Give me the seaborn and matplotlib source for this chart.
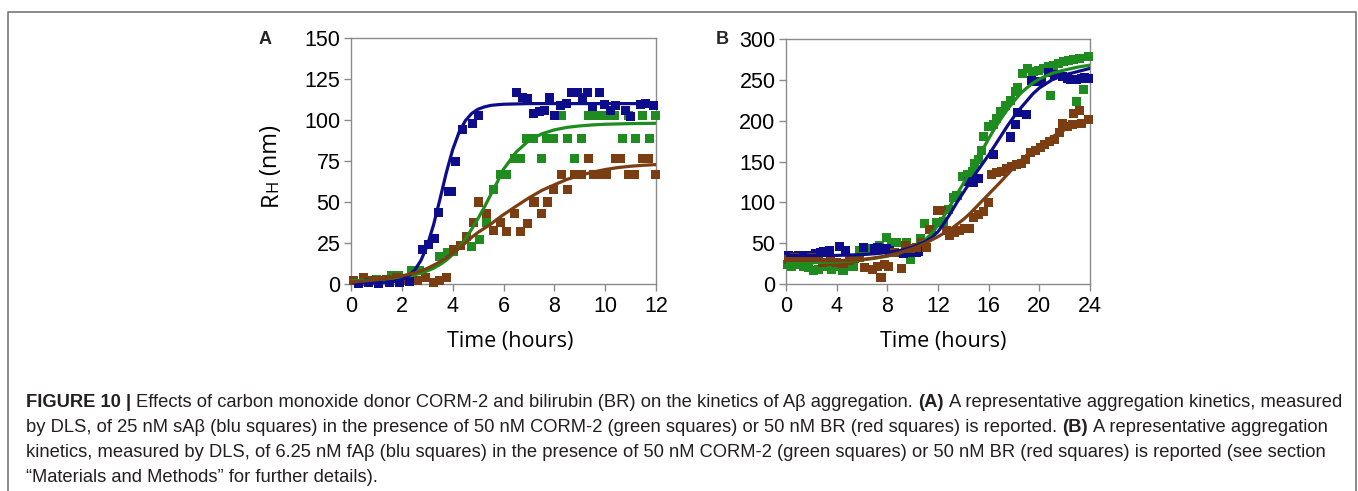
import numpy as np
import pandas as pd
import matplotlib
matplotlib.use("Agg")
import matplotlib.pyplot as plt
import seaborn as sns
from matplotlib.lines import Line2D

# ---------------- Panel A data (Time in hours, RH in nm) ----------------
A_blue_t = [0.3, 0.7, 1.1, 1.5, 1.9, 2.3, 2.82, 3.05, 3.27, 3.45, 3.85, 3.95, 4.11, 4.4, 4.78, 5.03,
            6.5, 6.75, 6.95, 7.18, 7.42, 7.6, 7.81, 8.0, 8.23, 8.47, 8.69, 8.91, 9.11, 9.31, 9.52,
            9.77, 9.98, 10.2, 10.42, 10.8, 11.0, 11.38, 11.6, 11.9]
A_blue_r = [0.5, 0.8, 0.6, 1.0, 1.2, 1.5, 20.9, 24, 27.6, 43.7, 56.5, 56.5, 74.8, 94, 98, 103,
            116.5, 114, 113, 104, 105, 106, 114, 103, 109, 110, 117, 116.5, 113.6, 117, 108,
            117, 109.6, 106, 109, 106, 102, 109.3, 109.8, 108.7]

A_green_t = [0.5, 1.0, 1.6, 1.85, 2.4, 2.7, 3.48, 3.8, 4.05, 4.75, 5.05, 5.34, 5.6, 5.87, 6.13, 6.42,
             6.68, 6.92, 7.18, 7.48, 7.7, 7.97, 8.27, 8.53, 8.8, 9.05, 9.35, 9.55, 9.75, 9.95,
             10.15, 10.35, 10.7, 10.92, 11.2, 11.48, 11.75, 11.97]
A_green_r = [1.5, 2.5, 5, 5, 8.3, 8, 16.5, 19.3, 20, 23, 27.4, 37.2, 57.5, 66.7, 66.7, 76.8,
             76.8, 89, 89, 76.8, 89, 89, 102.8, 89, 76.8, 89, 102.8, 102.8, 102.8, 102.8,
             102.8, 102.8, 89, 102.8, 89, 102.8, 89, 102.8]

A_brown_t = [0.1, 0.5, 0.8, 1.1, 1.4, 1.8, 2.2, 2.6, 2.93, 3.24, 3.5, 3.74, 4.03, 4.29, 4.55, 4.82,
             5.0, 5.34, 5.6, 5.87, 6.13, 6.42, 6.68, 6.95, 7.2, 7.48, 7.73, 7.97, 8.27, 8.53,
             8.8, 9.05, 9.35, 9.55, 9.8, 10.05, 10.42, 10.6, 10.92, 11.15, 11.48, 11.7, 11.97]
A_brown_r = [2, 3.7, 2.2, 2.2, 2.5, 3.7, 2, 2.2, 3.7, 1, 2.2, 3.7, 21, 23.4, 28.7, 37.6,
             50, 43, 32.5, 37.6, 32, 43, 32, 37, 50, 43, 50, 57.5, 66.7, 57.5,
             66.7, 66.7, 76.8, 66.7, 66.7, 66.7, 76.8, 76.8, 66.7, 66.7, 76.8, 76.8, 66.7]

# fitted curves
A_fit_t = [0, 0.5, 1, 1.5, 2, 2.25, 2.5, 2.75, 3, 3.25, 3.5, 3.75, 4, 4.25, 4.5, 4.75, 5, 5.25,
           5.5, 5.75, 6, 6.5, 7, 7.5, 8, 8.5, 9, 9.5, 10, 10.5, 11, 11.5, 12]
A_fit_blue = [0.1, 0.2, 0.3, 0.8, 2.7, 4.8, 8.3, 14.3, 23.4, 36.2, 51.7, 67.9, 81.9, 92.5, 99.6,
              104, 106.6, 108, 108.9, 109.3, 109.6, 109.8, 110, 110, 110, 110, 110, 110, 110,
              110, 110, 110, 110]
A_fit_green = [2, 2.3, 2.7, 3.3, 4.2, 4.8, 5.6, 6.6, 8, 9.6, 11.8, 14.5, 18, 22.3, 27.5, 33.5,
               40, 47, 54.5, 62, 70, 80.5, 87.5, 91.5, 94, 95.5, 96.4, 97, 97.4, 97.6, 97.8,
               97.9, 98]
A_fit_brown = [1.2, 1.8, 2.6, 3.6, 5, 5.8, 6.8, 8, 9.5, 11.5, 13.5, 16, 18.8, 21.8, 25, 28.5,
               31.5, 34, 36.5, 39.5, 42.3, 47.5, 52.5, 57, 60.5, 63.8, 66.2, 68.2, 69.8, 71,
               71.8, 72.4, 72.8]

# ---------------- Panel B data ----------------
B_blue_t = [0.2, 0.6, 1.0, 1.4, 1.8, 2.3, 2.7, 3.0, 3.4, 4.2, 4.66, 6.1, 7.0, 7.2, 7.55, 7.95,
            8.2, 9.26, 9.8, 10.3, 10.45, 14.4, 14.8, 15.2, 16.4, 17.7, 18.1, 18.3, 19.0, 19.4,
            19.8, 20.2, 20.7, 21.2, 21.5, 21.8, 22.2, 22.5, 22.9, 23.3, 23.6, 23.9]
B_blue_r = [35, 34, 35, 34.6, 35, 37, 38, 39.4, 40.7, 46, 41, 44.5, 43, 44.7, 42.7, 43.5,
            40.7, 37.8, 38, 38, 39.4, 126, 124, 129, 158, 180, 195, 210, 207, 249,
            248, 248, 259, 257, 256, 254, 252, 251, 250, 252, 253, 252]

B_green_t = [0.1, 0.45, 1.0, 1.4, 1.8, 2.2, 2.6, 3.1, 3.6, 4.0, 4.5, 4.9, 5.3, 5.8, 6.2, 6.6,
             7.4, 7.9, 8.3, 8.7, 9.5, 9.8, 10.6, 10.9, 11.5, 11.9, 12.4, 12.8, 13.2, 13.5,
             13.9, 14.3, 14.7, 14.9, 15.2, 15.4, 15.6, 16.0, 16.4, 16.6, 16.9, 17.3, 17.7,
             18.1, 18.3, 18.7, 19.1, 19.5, 19.9, 20.3, 20.7, 20.9, 21.1, 21.5, 21.9, 22.3,
             22.7, 22.9, 23.2, 23.5, 23.9]
B_green_r = [24, 21.5, 24, 21.5, 20, 16, 18, 21.5, 18, 21.5, 16, 21.5, 21.5, 40.6, 40.6, 43.5,
             46.7, 57, 51, 51, 51, 30.5, 55.7, 74.4, 67, 75, 77, 91.5, 105.7, 108,
             132, 134, 138, 148, 152, 163, 181, 193, 195, 203, 211, 219, 225,
             236, 240, 258, 264, 260, 262, 264, 266, 231, 268, 270, 272, 274,
             275, 223, 276, 238, 279]

B_brown_t = [0.2, 0.7, 1.1, 1.5, 2.0, 2.6, 2.9, 3.5, 4.0, 4.5, 5.0, 5.4, 5.8, 6.2, 6.8, 7.2,
             7.5, 7.8, 8.1, 8.6, 9.1, 9.4, 9.8, 10.3, 10.7, 11.1, 11.3, 12.0, 12.3, 12.7,
             12.9, 13.3, 13.7, 14.1, 14.5, 14.8, 15.2, 15.6, 16.0, 16.2, 16.6, 17.0, 17.4,
             17.8, 18.2, 18.6, 18.9, 19.3, 19.7, 20.1, 20.4, 20.8, 21.2, 21.6, 21.8, 22.2,
             22.6, 22.7, 23.2, 23.3, 23.9]
B_brown_r = [30.5, 32.5, 31, 30.5, 32.5, 30.5, 26, 27, 26, 25.6, 28.5, 31, 32.5, 20, 18, 22,
             8, 24.4, 22, 38.6, 19, 46.7, 43.5, 44.7, 51, 44.7, 67, 89.4, 89.4, 65,
             59, 63, 65, 68, 68, 81, 85, 89, 99.6, 134, 137, 138, 141,
             144, 146, 148, 152, 161, 164, 167, 171, 174, 177, 185, 197, 193,
             195, 209, 213, 197, 201]

B_fit_t = [0, 2, 4, 6, 7, 8, 9, 10, 10.5, 11, 11.5, 12, 12.5, 13, 13.5, 14, 14.5, 15, 15.5,
           16, 16.5, 17, 17.5, 18, 18.5, 19, 19.5, 20, 21, 22, 23, 24]
B_fit_blue = [35, 35, 35, 36, 37, 38.5, 41, 45, 48.5, 52, 57, 64, 75, 87, 100, 112, 124, 136,
              147, 158, 170, 182, 194, 205, 215, 224, 233, 240, 250, 256, 260, 264]
B_fit_green = [26, 26, 27, 29.5, 31.5, 34, 38, 44, 48.5, 54, 62, 72, 84, 97, 110, 123, 137, 151,
               164, 178, 191, 203, 214, 224, 233, 240, 246, 251, 258, 262, 265.5, 268]
B_fit_brown = [29, 29, 28.5, 30, 32, 34.5, 38.5, 43.5, 46.5, 50, 54, 58, 62.5, 67, 73, 79, 86,
               94, 102, 110, 118, 126, 134.5, 143, 150.5, 157.5, 164, 170, 180, 189, 195, 201]

A_xticks = [0, 2, 4, 6, 8, 10, 12]
A_yticks = [0, 25, 50, 75, 100, 125, 150]
B_xticks = [0, 4, 8, 12, 16, 20, 24]
B_yticks = [0, 50, 100, 150, 200, 250, 300]

CAPTION = [
    [("FIGURE 10 |", True), ("Effects of carbon monoxide donor CORM-2 and bilirubin (BR) on the kinetics of A\u03b2 aggregation.", False),
     ("(A)", True), ("A representative aggregation kinetics, measured", False)],
    [("by DLS, of 25 nM sA\u03b2 (blu squares) in the presence of 50 nM CORM-2 (green squares) or 50 nM BR (red squares) is reported.", False),
     ("(B)", True), ("A representative aggregation", False)],
    [("kinetics, measured by DLS, of 6.25 nM fA\u03b2 (blu squares) in the presence of 50 nM CORM-2 (green squares) or 50 nM BR (red squares) is reported (see section", False)],
    [("\u201cMaterials and Methods\u201d for further details).", False)],
]

# ---------------- styling ----------------
sns.set_theme(style="white")
plt.rcParams["font.family"] = ["Liberation Sans", "DejaVu Sans"]
PAL = {"blue": "#0d0d8c", "green": "#1e8c1e", "brown": "#7b3d12"}
SPINE = "#8a8a8a"

W, H = 1358, 491
fig = plt.figure(figsize=(W / 100, H / 100), dpi=100)


def px_axes(l, t, r, b):
    return fig.add_axes([l / W, 1 - b / H, (r - l) / W, (b - t) / H])


def frame(pts, fits, fit_t):
    p = pd.concat([pd.DataFrame({"t": t, "r": r, "s": k}) for k, (t, r) in pts.items()],
                  ignore_index=True)
    f = pd.concat([pd.DataFrame({"t": fit_t, "r": v, "s": k}) for k, v in fits.items()],
                  ignore_index=True)
    return p, f


def panel(ax, pts, fits, fit_t, xticks, yticks):
    p, f = frame(pts, fits, fit_t)
    sns.scatterplot(data=p, x="t", y="r", hue="s", palette=PAL, marker="s", s=42,
                    linewidth=0, legend=False, ax=ax, zorder=3)
    for c in ax.collections:
        c.set_clip_on(False)
    sns.lineplot(data=f, x="t", y="r", hue="s", palette=PAL, lw=2.3, legend=False, ax=ax,
                 sort=True, estimator=None, zorder=4)
    ax.set_xlim(xticks[0], xticks[-1])
    ax.set_ylim(yticks[0], yticks[-1])
    ax.set_xticks(xticks)
    ax.set_yticks(yticks)
    ax.set_xlabel("")
    ax.set_ylabel("")
    for sp in ax.spines.values():
        sp.set_visible(True)
        sp.set_color(SPINE)
        sp.set_linewidth(1.0)
    ax.tick_params(direction="out", length=5, width=1, color=SPINE, labelcolor="black",
                   labelsize=15.5, pad=2.5, bottom=True, left=True)
    ax.tick_params(axis="x", pad=3.5)
    ax.grid(False)
    ax.set_facecolor("white")


axA = px_axes(351, 38, 656, 284)
axB = px_axes(786, 39, 1090, 284)

panel(axA,
      {"green": (A_green_t, A_green_r), "brown": (A_brown_t, A_brown_r), "blue": (A_blue_t, A_blue_r)},
      {"green": A_fit_green, "blue": A_fit_blue, "brown": A_fit_brown}, A_fit_t, A_xticks, A_yticks)
panel(axB,
      {"green": (B_green_t, B_green_r), "blue": (B_blue_t, B_blue_r), "brown": (B_brown_t, B_brown_r)},
      {"green": B_fit_green, "blue": B_fit_blue, "brown": B_fit_brown}, B_fit_t, B_xticks, B_yticks)

LABFONT = ["Open Sans", "DejaVu Sans"]
for ax, cx in ((axA, 510), (axB, 943)):
    fig.text(cx / W, 1 - 342 / H, "Time (hours)", family=LABFONT, fontsize=15.5,
             ha="center", va="center", color="black")

fig.text(265 / W, 1 - 40 / H, "A", fontsize=13, fontweight="bold", ha="center", va="center")
fig.text(722.5 / W, 1 - 40 / H, "B", fontsize=13, fontweight="bold", ha="center", va="center")

fig.canvas.draw()
R = fig.canvas.get_renderer()

# y-axis label R_H (nm) with small-cap H, built from rotated pieces
ylab_pieces = [("R", 17), ("H", 12), ("\u2009(nm)", 17)]
ypos = H - 206
for txt, sz in ylab_pieces:
    t = fig.text(277 / W, ypos / H, txt, family=LABFONT, fontsize=sz, rotation=90,
                 rotation_mode="anchor", ha="left", va="baseline", color="black")
    ypos += t.get_window_extent(R).height

# caption
def width_of(txt, bold, size):
    t = fig.text(0, 0, txt, fontsize=size, fontweight="bold" if bold else "normal")
    w = t.get_window_extent(R).width
    t.remove()
    return w


def line_width(pieces, size):
    sp = width_of("a a", False, size) - width_of("aa", False, size)
    return sum(width_of(s, b, size) for s, b in pieces) + sp * (len(pieces) - 1), sp


base = 10.8
w1, _ = line_width(CAPTION[0], base)
size = base * (1343 - 26) / w1
CAPCOL = "#231f20"
for i, pieces in enumerate(CAPTION):
    _, sp = line_width(pieces, size)
    x = 26.0
    yb = 407 + 25 * i
    for s, b in pieces:
        t = fig.text(x / W, 1 - yb / H, s, fontsize=size, fontweight="bold" if b else "normal",
                     ha="left", va="baseline", color=CAPCOL)
        x += t.get_window_extent(R).width + sp

# border box (left, top, right)
fig.add_artist(Line2D([8 / W, 8 / W, 1356 / W, 1356 / W], [-0.02, 1 - 12 / H, 1 - 12 / H, -0.02],
                      transform=fig.transFigure, color="#777777", lw=1.2))

fig.savefig("out.png", dpi=100, facecolor="white")
